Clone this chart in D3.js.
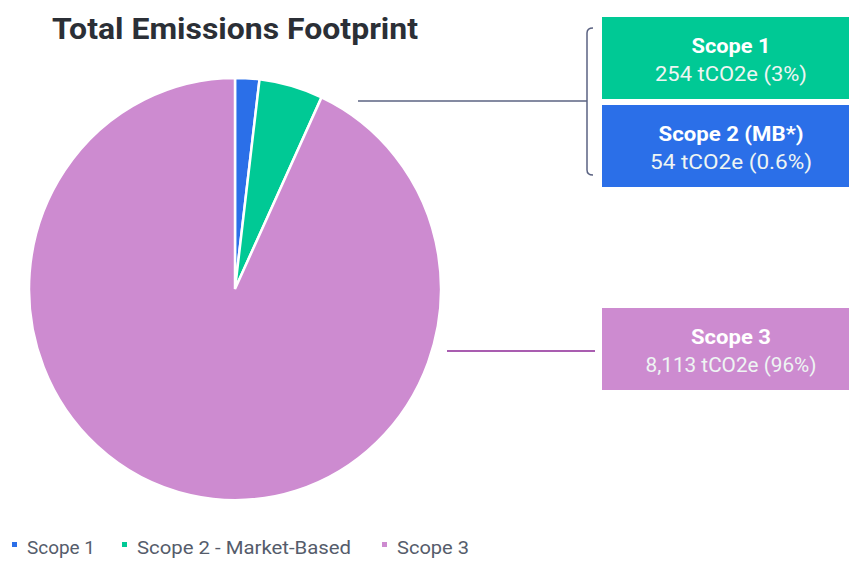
<!DOCTYPE html>
<html>
<head>
<meta charset="utf-8">
<script src="https://cdn.jsdelivr.net/npm/d3@7"></script>
<style>
  body { margin: 0; background: #fff; }
  text { font-family: Roboto, "Noto Sans", sans-serif; }
</style>
</head>
<body>
<div id="chart"></div>
<script>
// Chart data
const categories = ["Scope 1", "Scope 2 - Market-Based", "Scope 3"];
const sliceShares = [1.9, 5.0, 93.1];   // share of the pie, as drawn
const colors = ["#2b6fe8", "#00c995", "#cd8bd0"];

const boxTitles = ["Scope 1", "Scope 2 (MB*)", "Scope 3"];
const boxValues = ["254 tCO2e (3%)", "54 tCO2e (0.6%)", "8,113 tCO2e (96%)"];
const boxColors = ["#00c995", "#2b6fe8", "#cd8bd0"];

const width = 849, height = 561;

const svg = d3.select("#chart")
  .append("svg")
    .attr("width", width)
    .attr("height", height);

// Title
svg.append("text")
  .attr("x", 52)
  .attr("y", 39)
  .attr("font-size", 30)
  .attr("font-weight", "bold")
  .attr("fill", "#2b2f36")
  .attr("textLength", 366)
  .attr("lengthAdjust", "spacingAndGlyphs")
  .text("Total Emissions Footprint");

// Pie
const radius = 206;
const pie = d3.pie().sort(null).value(d => d.value);
const arc = d3.arc().innerRadius(0).outerRadius(radius);

const pieData = pie(categories.map((c, i) => ({ name: c, value: sliceShares[i], color: colors[i] })));

const g = svg.append("g")
  .attr("transform", "translate(235,289) scale(1,1.025)");

g.selectAll("path")
  .data(pieData)
  .enter().append("path")
    .attr("d", arc)
    .attr("fill", d => d.data.color)
    .attr("stroke", "#fff")
    .attr("stroke-width", 2.5);

// Label boxes
const boxes = [
  { y: 17, h: 82 },
  { y: 105, h: 82 },
  { y: 308, h: 82 }
];
const titleWidths = [79, 145, 80];
const valueWidths = [152, 162, 171];

const box = svg.selectAll(".box")
  .data(boxes)
  .enter().append("g")
    .attr("class", "box");

box.append("rect")
  .attr("x", 602)
  .attr("y", d => d.y)
  .attr("width", 260)
  .attr("height", d => d.h)
  .attr("fill", (d, i) => boxColors[i]);

box.append("text")
  .attr("x", 731)
  .attr("y", d => d.y + 36)
  .attr("text-anchor", "middle")
  .attr("font-size", 21)
  .attr("font-weight", "bold")
  .attr("fill", "#fff")
  .attr("textLength", (d, i) => titleWidths[i])
  .attr("lengthAdjust", "spacingAndGlyphs")
  .text((d, i) => boxTitles[i]);

box.append("text")
  .attr("x", 731)
  .attr("y", d => d.y + 64)
  .attr("text-anchor", "middle")
  .attr("font-size", 21)
  .attr("fill", "#eef5f3")
  .attr("textLength", (d, i) => valueWidths[i])
  .attr("lengthAdjust", "spacingAndGlyphs")
  .text((d, i) => boxValues[i]);

// Bracket and connector for scope 1 & 2
svg.append("path")
  .attr("d", "M593,28 Q587,28 587,33 L587,170 Q587,175 593,175")
  .attr("fill", "none")
  .attr("stroke", "#5b6382")
  .attr("stroke-width", 1.5);

svg.append("line")
  .attr("x1", 358).attr("x2", 587)
  .attr("y1", 101).attr("y2", 101)
  .attr("stroke", "#5b6382")
  .attr("stroke-width", 1.5);

// Connector for scope 3
svg.append("line")
  .attr("x1", 447).attr("x2", 595)
  .attr("y1", 351).attr("y2", 351)
  .attr("stroke", "#a95db0")
  .attr("stroke-width", 2);

// Legend
const legendX = [12, 122, 382];
const legendTextWidths = [68, 214, 72];

const legend = svg.selectAll(".legend")
  .data(categories)
  .enter().append("g")
    .attr("class", "legend")
    .attr("transform", (d, i) => "translate(" + legendX[i] + ",0)");

legend.append("rect")
  .attr("x", 0)
  .attr("y", 542)
  .attr("width", 5)
  .attr("height", 5)
  .attr("fill", (d, i) => colors[i]);

legend.append("text")
  .attr("x", 15)
  .attr("y", 554)
  .attr("font-size", 18)
  .attr("fill", "#555c6b")
  .attr("textLength", (d, i) => legendTextWidths[i])
  .attr("lengthAdjust", "spacingAndGlyphs")
  .text(d => d);
</script>
</body>
</html>
